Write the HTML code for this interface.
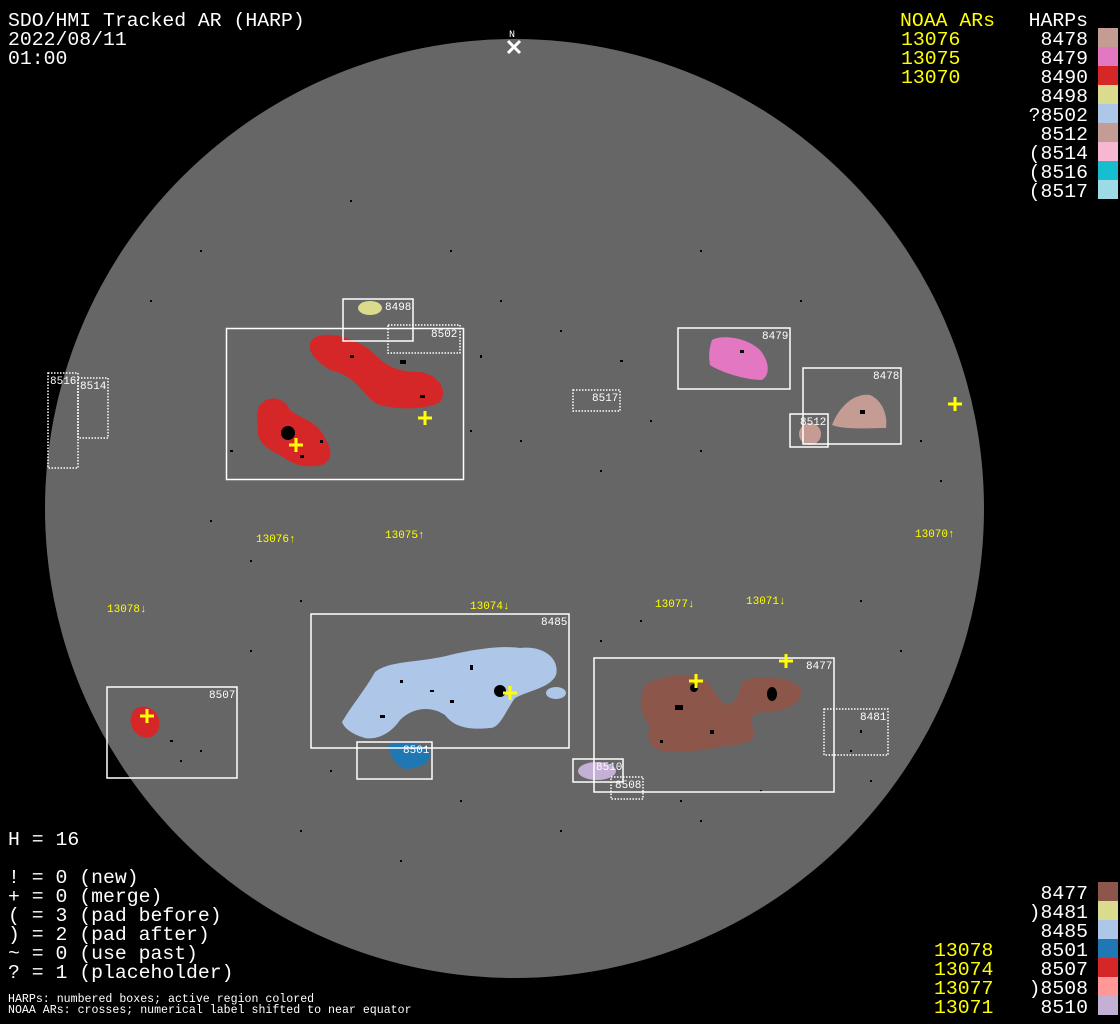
<!DOCTYPE html>
<html><head><meta charset="utf-8"><style>
html,body{margin:0;padding:0;background:#000;}
svg{display:block}
text{font-family:"Liberation Mono",monospace;}
.big{font-size:19.8px;fill:#fff}
.y{fill:#ffff00}
.sm{font-size:11px;fill:#fff}
.ys{font-size:11px;fill:#ffff00}
.b{fill:none;stroke:#fff;stroke-width:1.5}
.d{fill:none;stroke:#fff;stroke-width:1.5;stroke-dasharray:1.5 1.5}
.x{stroke:#ffff00;stroke-width:3}
</style></head><body>
<svg width="1120" height="1024" viewBox="0 0 1120 1024" xmlns="http://www.w3.org/2000/svg">
<rect width="1120" height="1024" fill="#000"/>
<circle cx="514.5" cy="508.5" r="469.5" fill="#666"/>
<!-- specks -->
<g fill="#000">
<rect x="150" y="300" width="2" height="2"/><rect x="200" y="250" width="2" height="2"/><rect x="480" y="355" width="2" height="3"/><rect x="500" y="300" width="2" height="2"/><rect x="560" y="330" width="2" height="2"/><rect x="620" y="360" width="3" height="2"/><rect x="650" y="420" width="2" height="2"/><rect x="700" y="450" width="2" height="2"/><rect x="600" y="470" width="2" height="2"/><rect x="520" y="440" width="2" height="2"/><rect x="470" y="430" width="2" height="2"/><rect x="230" y="450" width="3" height="2"/><rect x="210" y="520" width="2" height="2"/><rect x="300" y="600" width="2" height="2"/><rect x="250" y="650" width="2" height="2"/><rect x="600" y="640" width="2" height="2"/><rect x="640" y="620" width="2" height="2"/><rect x="860" y="600" width="2" height="2"/><rect x="900" y="650" width="2" height="2"/><rect x="870" y="780" width="2" height="2"/><rect x="700" y="820" width="2" height="2"/><rect x="560" y="830" width="2" height="2"/><rect x="460" y="800" width="2" height="2"/><rect x="300" y="830" width="2" height="2"/><rect x="400" y="860" width="2" height="2"/><rect x="920" y="440" width="2" height="2"/><rect x="940" y="480" width="2" height="2"/><rect x="800" y="300" width="2" height="2"/><rect x="700" y="250" width="2" height="2"/><rect x="450" y="250" width="2" height="2"/><rect x="350" y="200" width="2" height="2"/><rect x="250" y="560" width="2" height="2"/><rect x="170" y="740" width="3" height="2"/><rect x="180" y="760" width="2" height="2"/><rect x="200" y="750" width="2" height="2"/><rect x="330" y="770" width="2" height="2"/><rect x="860" y="730" width="2" height="3"/><rect x="850" y="750" width="2" height="2"/><rect x="760" y="790" width="2" height="2"/><rect x="680" y="800" width="2" height="2"/>
</g>
<!-- blobs -->
<path d="M312,340 C320,330 350,335 370,350 C385,365 395,372 420,372 C440,375 448,392 440,402 C425,410 400,410 380,405 C362,398 362,378 330,370 C315,360 305,350 312,340Z" fill="#d62728"/>
<path d="M262,403 C270,395 285,398 290,410 C298,418 318,420 326,440 C335,455 330,465 315,466 C300,468 290,462 280,455 C265,448 255,440 258,425 C256,412 258,406 262,403Z" fill="#d62728"/>
<ellipse cx="370" cy="308" rx="12" ry="7" fill="#dbdb8d"/>
<path d="M712,340 C720,335 745,336 760,350 C770,362 770,375 762,380 C745,380 720,372 710,365 C708,355 710,345 712,340Z" fill="#e377c2"/>
<path d="M832,425 C840,405 855,393 870,395 C882,400 888,415 886,428 C870,428 845,430 832,425Z" fill="#c49c94"/>
<circle cx="810" cy="434" r="11" fill="#c49c94"/>
<path d="M342,722 C352,705 365,690 375,672 C390,660 420,663 450,655 C470,650 500,645 520,648 C545,645 560,660 556,675 C550,688 530,690 515,698 C505,712 500,728 490,728 C470,730 455,728 445,715 C430,705 412,708 400,720 C390,735 375,740 365,738 C355,735 345,730 342,722Z" fill="#aec7e8"/>
<ellipse cx="556" cy="693" rx="10" ry="6" fill="#aec7e8"/>
<path d="M388,745 C400,740 425,743 430,752 C432,762 422,768 405,769 C395,765 390,755 388,745Z" fill="#1f77b4"/>
<ellipse cx="597" cy="771" rx="19" ry="9" fill="#c5b0d5"/>
<path d="M645,685 C660,675 690,672 705,680 C715,690 718,700 725,705 C745,700 735,688 745,680 C760,675 790,676 800,688 C805,700 790,710 770,712 C755,712 750,715 752,725 C760,740 745,745 730,745 C710,748 700,752 670,752 C650,750 645,740 650,725 C640,715 638,700 645,685Z" fill="#8c564b"/>
<ellipse cx="145" cy="722" rx="14" ry="16" transform="rotate(-30 145 722)" fill="#d62728"/>
<!-- spots -->
<circle cx="288" cy="433" r="7" fill="#000"/>
<circle cx="500" cy="691" r="6" fill="#000"/>
<ellipse cx="772" cy="694" rx="5" ry="7" fill="#000"/>
<circle cx="694" cy="688" r="4" fill="#000"/>
<g fill="#000">
<rect x="400" y="360" width="6" height="4"/><rect x="350" y="355" width="4" height="3"/><rect x="420" y="395" width="5" height="3"/><rect x="300" y="455" width="4" height="3"/><rect x="320" y="440" width="3" height="3"/>
<rect x="400" y="680" width="3" height="3"/><rect x="430" y="690" width="4" height="2"/><rect x="380" y="715" width="5" height="3"/><rect x="470" y="665" width="3" height="5"/><rect x="450" y="700" width="4" height="3"/>
<rect x="675" y="705" width="8" height="5"/><rect x="710" y="730" width="4" height="4"/><rect x="660" y="740" width="3" height="3"/>
<rect x="860" y="410" width="5" height="4"/><rect x="740" y="350" width="4" height="3"/>
</g>
<!-- boxes -->
<rect class="b" x="343" y="299" width="70" height="42"/>
<rect class="b" x="226.5" y="328.5" width="237" height="151"/>
<rect class="d" x="388" y="325" width="72" height="28"/>
<rect class="d" x="48" y="373" width="30" height="95"/>
<rect class="d" x="78" y="378" width="30" height="60"/>
<rect class="d" x="573" y="390" width="47" height="21"/>
<rect class="b" x="678" y="328" width="112" height="61"/>
<rect class="b" x="803" y="368" width="98" height="76"/>
<rect class="b" x="790" y="414" width="38" height="33"/>
<rect class="b" x="311" y="614" width="258" height="134"/>
<rect class="b" x="357" y="742" width="75" height="37"/>
<rect class="b" x="594" y="658" width="240" height="134"/>
<rect class="d" x="824" y="709" width="64" height="46"/>
<rect class="b" x="573" y="759" width="50" height="23"/>
<rect class="d" x="611" y="777" width="32" height="22"/>
<rect class="b" x="107" y="687" width="130" height="91"/>
<!-- box labels -->
<text class="sm" x="385" y="310">8498</text>
<text class="sm" x="431" y="337">8502</text>
<text class="sm" x="50" y="384">8516</text>
<text class="sm" x="80" y="389">8514</text>
<text class="sm" x="592" y="401">8517</text>
<text class="sm" x="762" y="339">8479</text>
<text class="sm" x="873" y="379">8478</text>
<text class="sm" x="800" y="425">8512</text>
<text class="sm" x="541" y="625">8485</text>
<text class="sm" x="403" y="753">8501</text>
<text class="sm" x="806" y="669">8477</text>
<text class="sm" x="860" y="720">8481</text>
<text class="sm" x="596" y="770">8510</text>
<text class="sm" x="615" y="788">8508</text>
<text class="sm" x="209" y="698">8507</text>
<!-- crosses -->
<g class="x">
<path d="M418,418h14M425,411v14"/><path d="M289,445h14M296,438v14"/><path d="M948,404h14M955,397v14"/>
<path d="M503,693h14M510,686v14"/><path d="M689,681h14M696,674v14"/><path d="M779,661h14M786,654v14"/><path d="M140,716h14M147,709v14"/>
</g>
<!-- NOAA labels -->
<text class="ys" x="256" y="542">13076↑</text>
<text class="ys" x="385" y="538">13075↑</text>
<text class="ys" x="915" y="537">13070↑</text>
<text class="ys" x="107" y="612">13078↓</text>
<text class="ys" x="470" y="609">13074↓</text>
<text class="ys" x="655" y="607">13077↓</text>
<text class="ys" x="746" y="604">13071↓</text>
<!-- N marker -->
<text x="509" y="37" style="font-size:10px;fill:#fff">N</text>
<path d="M508,41l12,12M520,41l-12,12" stroke="#fff" stroke-width="3"/>
<!-- header -->
<text class="big" x="8" y="26">SDO/HMI Tracked AR (HARP)</text>
<text class="big" x="8" y="45">2022/08/11</text>
<text class="big" x="8" y="64">01:00</text>
<text class="big y" x="900" y="26">NOAA ARs</text>
<text class="big" x="1088" y="26" text-anchor="end">HARPs</text>
<text class="big y" x="901" y="45">13076</text>
<text class="big y" x="901" y="64">13075</text>
<text class="big y" x="901" y="83">13070</text>
<g class="big" text-anchor="end">
<text x="1088" y="45">8478</text><text x="1088" y="64">8479</text><text x="1088" y="83">8490</text>
<text x="1088" y="102">8498</text><text x="1088" y="121">?8502</text><text x="1088" y="140">8512</text>
<text x="1088" y="159">(8514</text><text x="1088" y="178">(8516</text><text x="1088" y="197">(8517</text>
</g>
<rect x="1098" y="28" width="20" height="19" fill="#c49c94"/>
<rect x="1098" y="47" width="20" height="19" fill="#e377c2"/>
<rect x="1098" y="66" width="20" height="19" fill="#d62728"/>
<rect x="1098" y="85" width="20" height="19" fill="#dbdb8d"/>
<rect x="1098" y="104" width="20" height="19" fill="#aec7e8"/>
<rect x="1098" y="123" width="20" height="19" fill="#c49c94"/>
<rect x="1098" y="142" width="20" height="19" fill="#f7b6d2"/>
<rect x="1098" y="161" width="20" height="19" fill="#17becf"/>
<rect x="1098" y="180" width="20" height="19" fill="#9edae5"/>
<!-- bottom right -->
<g class="big" text-anchor="end">
<text x="1088" y="899">8477</text><text x="1088" y="918">)8481</text><text x="1088" y="937">8485</text>
<text x="1088" y="956">8501</text><text x="1088" y="975">8507</text><text x="1088" y="994">)8508</text><text x="1088" y="1013">8510</text>
</g>
<text class="big y" x="934" y="956">13078</text>
<text class="big y" x="934" y="975">13074</text>
<text class="big y" x="934" y="994">13077</text>
<text class="big y" x="934" y="1013">13071</text>
<rect x="1098" y="882" width="20" height="19" fill="#8c564b"/>
<rect x="1098" y="901" width="20" height="19" fill="#dbdb8d"/>
<rect x="1098" y="920" width="20" height="19" fill="#aec7e8"/>
<rect x="1098" y="939" width="20" height="19" fill="#1f77b4"/>
<rect x="1098" y="958" width="20" height="19" fill="#d62728"/>
<rect x="1098" y="977" width="20" height="19" fill="#ff9896"/>
<rect x="1098" y="996" width="20" height="19" fill="#c5b0d5"/>
<!-- bottom left -->
<text class="big" x="8" y="845">H = 16</text>
<text class="big" x="8" y="883">! = 0 (new)</text>
<text class="big" x="8" y="902">+ = 0 (merge)</text>
<text class="big" x="8" y="921">( = 3 (pad before)</text>
<text class="big" x="8" y="940">) = 2 (pad after)</text>
<text class="big" x="8" y="959">~ = 0 (use past)</text>
<text class="big" x="8" y="978">? = 1 (placeholder)</text>
<text x="8" y="1002" style="font-size:11.6px;fill:#fff">HARPs: numbered boxes; active region colored</text>
<text x="8" y="1013" style="font-size:11.6px;fill:#fff">NOAA ARs: crosses; numerical label shifted to near equator</text>
</svg>
</body></html>
